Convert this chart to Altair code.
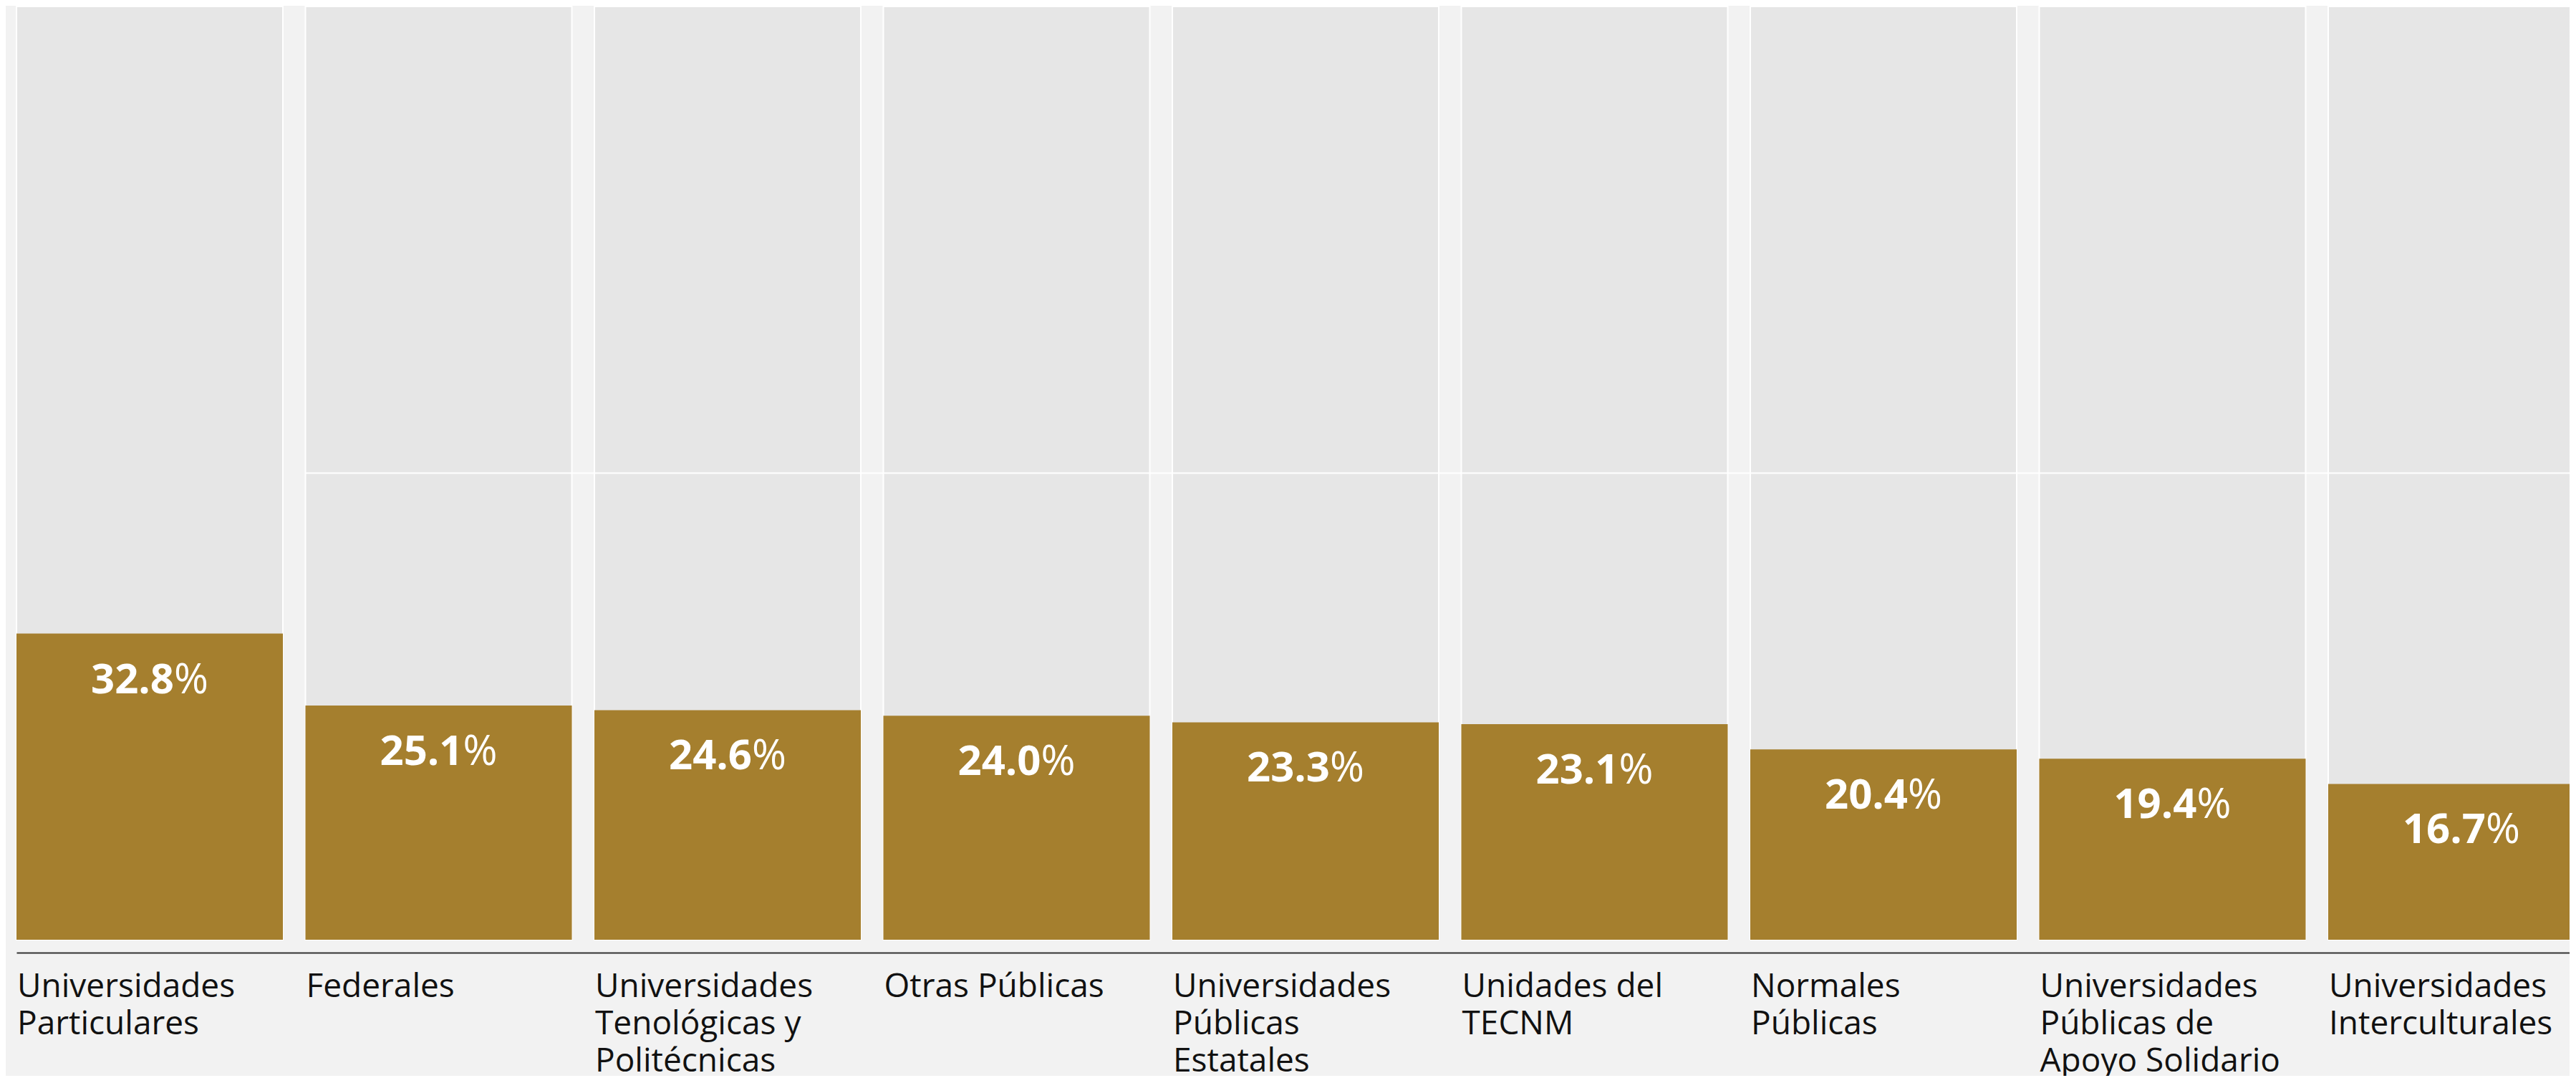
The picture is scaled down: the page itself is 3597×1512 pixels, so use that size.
import altair as alt
import pandas as pd

categories = [
    "Universidades\nParticulares",
    "Federales",
    "Universidades\nTenológicas y\nPolitécnicas",
    "Otras Públicas",
    "Universidades\nPúblicas\nEstatales",
    "Unidades del\nTECNM",
    "Normales\nPúblicas",
    "Universidades\nPúblicas de\nApoyo Solidario",
    "Universidades\nInterculturales",
]
values = [32.8, 25.1, 24.6, 24.0, 23.3, 23.1, 20.4, 19.4, 16.7]
full_scale = 100
gridline_value = 50

df = pd.DataFrame({"cat": categories, "value": values,
                   "full": [full_scale] * len(categories)})
grid_df = pd.DataFrame({"cat": [categories[1]], "cat_end": [categories[-1]],
                        "y": [gridline_value]})

GOLD = "#a57f2e"
FONT = "Open Sans"

x_scale = alt.Scale(domain=categories, range=[0, 3600], paddingInner=0.078, paddingOuter=0)
y_scale = alt.Scale(domain=[0, 100], nice=False)

x_axis = alt.Axis(
    title=None, labelAngle=0, labelAlign="left", labelBaseline="top",
    labelOffset=-185, labelPadding=25, labelFont=FONT, labelFontSize=46,
    labelColor="#111111", labelLineHeight=52, labelLimit=0, ticks=False, tickSize=0,
    domainColor="#333333", domainWidth=2, offset=18, grid=False,
    labelOverlap=False, labelExpr="split(datum.label, '\\n')",
)

base = alt.Chart(df)

grey = base.mark_bar(color="#e6e6e6", stroke="#ffffff", strokeWidth=2).encode(
    x=alt.X("cat:N", scale=x_scale, axis=x_axis),
    y=alt.Y("full:Q", scale=y_scale, axis=None),
)

rule = alt.Chart(grid_df).mark_rule(color="#ffffff", strokeWidth=2).encode(
    x=alt.X("cat:N", bandPosition=0),
    x2=alt.X2("cat_end", bandPosition=1),
    y=alt.Y("y:Q"),
)

gold = base.mark_bar(color=GOLD).encode(
    x=alt.X("cat:N"),
    y=alt.Y("value:Q"),
)

num = base.mark_text(align="right", baseline="alphabetic", dx=34, dy=83,
                     font=FONT, fontSize=58, fontWeight="bold", color="#ffffff").encode(
    x=alt.X("cat:N"),
    y=alt.Y("value:Q"),
    text=alt.Text("value:Q", format=".1f"),
)

pct = base.mark_text(align="left", baseline="alphabetic", dx=34, dy=83,
                     font=FONT, fontSize=58, fontWeight="normal", color="#ffffff").encode(
    x=alt.X("cat:N"),
    y=alt.Y("value:Q"),
    text=alt.value("%"),
)

chart = alt.layer(grey, rule, gold, num, pct).properties(
    width=3565,
    height=1303,
    padding={"left": 15, "top": 1, "right": 0, "bottom": 190},
    autosize=alt.AutoSizeParams(type="none"),
    background="#f2f2f2",
).configure_view(stroke=None)

chart.save("out.html", embed_options={"renderer": "svg", "actions": False})
